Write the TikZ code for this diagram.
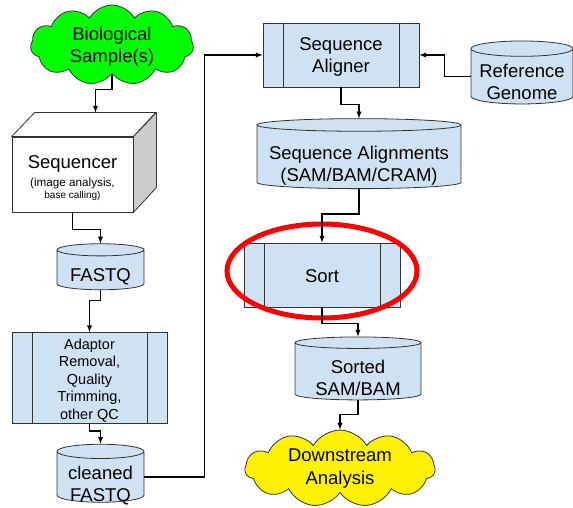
\documentclass[tikz,border=0pt]{standalone}
\usepackage{fontspec}
\setmainfont{Liberation Sans}
\usetikzlibrary{positioning}
\usetikzlibrary{arrows}
\usetikzlibrary{shapes.geometric,shapes.symbols}
\definecolor{procfillc}{HTML}{CFE2F3}
\colorlet{samplec}{green}
\colorlet{downc}{yellow}
\colorlet{sidec}{black!20}
\colorlet{edgec}{black!80}
% lines of a cylinder label, lowered by #1 pt
\newcommand{\dblabel}[2]{\raisebox{-#1pt}[0pt][0pt]{\vbox{\halign{\hfil##\hfil\cr#2\cr}}}}

\tikzset{
  bigtext/.style={font=\fontsize{18.5}{22.5}\selectfont},
  proc/.style={draw=edgec, fill=procfillc, shape=rectangle, line width=0.8pt,
    align=center, inner sep=0pt, bigtext,
    path picture={\draw[edgec,line width=0.8pt]
      ([xshift=20pt]path picture bounding box.north west) -- ([xshift=20pt]path picture bounding box.south west)
      ([xshift=-20pt]path picture bounding box.north east) -- ([xshift=-20pt]path picture bounding box.south east);}},
  db/.style={draw=edgec, fill=procfillc, shape=cylinder, shape border rotate=90,
    line width=0.8pt, inner sep=0pt, bigtext},
  puff/.style={draw=edgec, shape=cloud, cloud puffs=11, cloud puff arc=120, cloud ignores aspect,
    line width=0.8pt, align=center, inner sep=0pt, bigtext},
  conn/.style={draw, line width=1.3pt, -latex}
}

\begin{document}
\begin{tikzpicture}[x=1pt,y=-1pt]
\useasboundingbox (0,0) rectangle (573,508);

% left column
\node[puff, fill=samplec, minimum width=163pt, minimum height=80pt]
(bio) at (112,45) {\rule{0pt}{17pt}Biological\\Sample(s)};

\node[draw=edgec, fill=white, line width=0.8pt, shape=rectangle, minimum width=121pt, minimum height=75pt, align=center, inner sep=0pt]
(seq) at (72.5,174.5) {\fontsize{18.5}{22}\selectfont \rule{0pt}{20pt}Sequencer\\[5pt]\fontsize{11.7}{14}\selectfont (image analysis,\\base calling)};
\filldraw[draw=edgec, fill=white, line width=0.8pt, line join=round]
  (seq.north west) -- ++(23,-24) -- ++(121,0) -- (seq.north east) -- cycle;
\filldraw[draw=edgec, fill=sidec, line width=0.8pt, line join=round]
  (seq.north east) -- ++(23,-24) -- ++(0,75) -- (seq.south east) -- cycle;
\coordinate (seqtop) at ([shift={(23,-24)}]seq.north);

\node[db, minimum width=87pt, minimum height=46pt, aspect=0.2] (fastq) at (100.5,270) {\dblabel{11.6}{FASTQ}};

\node[proc, minimum width=155pt, minimum height=91pt, font=\fontsize{14.5}{17.5}\selectfont]
(adapt) at (89.5,378) {\rule{0pt}{15pt}Adaptor\\Removal,\\Quality\\Trimming,\\other QC};

\node[db, minimum width=87pt, minimum height=58pt, aspect=0.22] (clean) at (100.5,477) {\dblabel{24.6}{cleaned\cr FASTQ}};

% right column
\node[proc, minimum width=156pt, minimum height=64pt] (align) at (341,55) {\rule{0pt}{17pt}Sequence\\Aligner};
\node[db, minimum width=102pt, minimum height=63pt, aspect=0.18] (refgen) at (522,76.5) {\dblabel{23.1}{Reference\cr Genome}};
\node[db, minimum width=204pt, minimum height=70pt, aspect=0.07] (samall) at (359,157) {\dblabel{24.6}{Sequence Alignments\cr (SAM/BAM/CRAM)}};
\node[proc, minimum width=156pt, minimum height=64pt] (sort) at (322,275) {\rule{0pt}{16pt}Sort};
\node[db, minimum width=126pt, minimum height=63pt, aspect=0.135] (sorted) at (358,371.5) {\dblabel{24.1}{Sorted\cr SAM/BAM}};
\node[puff, fill=downc, minimum width=190pt, minimum height=73pt]
(down) at (340,468.5) {Downstream\\Analysis};

\draw[red, line width=5pt] (322,271) ellipse [x radius=95, y radius=47];

% connectors
\draw[conn] (bio.south) -- ++(0,16) -| (seqtop);
\draw[conn] (seq.south) -- ++(0,17) -| (fastq.north);
\draw[conn] (fastq.south) -- ++(0,10) -| (adapt.north);
\draw[conn] (adapt.south) -- ++(0,7) -| (clean.north);
\draw[conn] (clean.east) -- ++(60,0) |- (align.west);
\draw[conn] (refgen.west) -- ++(-26,0) |- (align.east);
\draw[conn] (align.south) -- ++(0,17) -| (samall.north);
\draw[conn] (samall.south) -- ++(0,25) -| (sort.north);
\draw[conn] (sort.south) -- ++(0,16) -| (sorted.north);
\draw[conn] (sorted.south) -- ++(0,14) -| (down.north);

\end{tikzpicture}
\end{document}
